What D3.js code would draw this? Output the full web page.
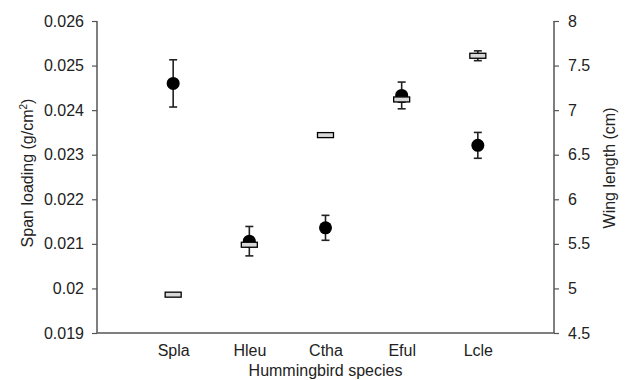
<!DOCTYPE html>
<html>
<head>
<meta charset="utf-8">
<script src="https://cdn.jsdelivr.net/npm/d3@7"></script>
<style>
  body { margin: 0; background: #fff; }
  text { font-family: "Liberation Sans", Arial, sans-serif; fill: #222; }
</style>
</head>
<body>
<div id="chart"></div>
<script>
var species = ['Spla', 'Hleu', 'Ctha', 'Eful', 'Lcle']

// span loading (left axis), mean and error
var spanLoading = [0.02460, 0.02106, 0.02136, 0.02433, 0.02321]
var spanErr     = [0.00053, 0.00033, 0.00028, 0.00030, 0.00029]

// wing length (right axis), mean and error
var wingLength = [4.93, 5.49, 6.72, 7.12, 7.61]
var wingErr    = [0.01, 0.02, 0.01, 0.03, 0.055]

var leftTicks  = [0.019, 0.02, 0.021, 0.022, 0.023, 0.024, 0.025, 0.026]
var rightTicks = [4.5, 5, 5.5, 6, 6.5, 7, 7.5, 8]

var W = 625, H = 380
var margin = {top: 21, right: 71, bottom: 47, left: 97}
var iw = W - margin.left - margin.right,
    ih = H - margin.top - margin.bottom

var svg = d3.select('#chart').append('svg')
  .attr('width', W)
  .attr('height', H)

var g = svg.append('g')
  .attr('transform', 'translate(' + margin.left + ',' + margin.top + ')')

var x = d3.scalePoint().domain(species).range([0, iw]).padding(1)
var yL = d3.scaleLinear().domain([0.019, 0.026]).range([ih, 0])
var yR = d3.scaleLinear().domain([4.5, 8]).range([ih, 0])

var axisColor = '#555'

var leftAxis = g.append('g')
  .call(d3.axisLeft(yL).tickValues(leftTicks).tickSize(5).tickPadding(8)
    .tickFormat(function(d) { return +d.toFixed(3) + '' }))
var rightAxis = g.append('g')
  .attr('transform', 'translate(' + iw + ',0)')
  .call(d3.axisRight(yR).tickValues(rightTicks).tickSize(5).tickPadding(9)
    .tickFormat(function(d) { return d + '' }))
var bottomAxis = g.append('g')
  .attr('transform', 'translate(0,' + ih + ')')
  .call(d3.axisBottom(x).tickSize(0).tickPadding(12))

;[leftAxis, rightAxis, bottomAxis].forEach(function(a) {
  a.select('.domain').attr('stroke', axisColor).attr('stroke-width', 1.5)
  a.selectAll('.tick line').attr('stroke', axisColor).attr('stroke-width', 1.2)
  a.selectAll('text').style('font-size', '16px').attr('fill', '#222')
})
bottomAxis.select('.domain').attr('d', 'M0,0H' + iw)
leftAxis.select('.domain').attr('d', 'M0,0V' + ih)
rightAxis.select('.domain').attr('d', 'M0,0V' + ih)

// axis titles
svg.append('text')
  .attr('transform', 'translate(33,173) rotate(-90)')
  .attr('text-anchor', 'middle')
  .style('font-size', '16px')
  .html('Span loading (g/cm<tspan dy="-6" font-size="10px">2</tspan><tspan dy="6">)</tspan>')

svg.append('text')
  .attr('transform', 'translate(615,168) rotate(-90)')
  .attr('text-anchor', 'middle')
  .style('font-size', '16px')
  .text('Wing length (cm)')

svg.append('text')
  .attr('x', margin.left + iw / 2)
  .attr('y', 376)
  .attr('text-anchor', 'middle')
  .style('font-size', '16px')
  .text('Hummingbird species')

var cap = 4

function errorBars(sel, scale, vals, errs) {
  var eb = sel.selectAll(null)
    .data(species)
    .enter().append('g')
  eb.append('line')
    .attr('x1', function(d) { return x(d) })
    .attr('x2', function(d) { return x(d) })
    .attr('y1', function(d, i) { return scale(vals[i] + errs[i]) })
    .attr('y2', function(d, i) { return scale(vals[i] - errs[i]) })
  eb.append('line')
    .attr('x1', function(d) { return x(d) - cap })
    .attr('x2', function(d) { return x(d) + cap })
    .attr('y1', function(d, i) { return scale(vals[i] + errs[i]) })
    .attr('y2', function(d, i) { return scale(vals[i] + errs[i]) })
  eb.append('line')
    .attr('x1', function(d) { return x(d) - cap })
    .attr('x2', function(d) { return x(d) + cap })
    .attr('y1', function(d, i) { return scale(vals[i] - errs[i]) })
    .attr('y2', function(d, i) { return scale(vals[i] - errs[i]) })
  eb.selectAll('line').attr('stroke', '#222').attr('stroke-width', 1.6)
}

var spanG = g.append('g')
errorBars(spanG, yL, spanLoading, spanErr)
spanG.selectAll('circle')
  .data(species)
  .enter().append('circle')
  .attr('cx', function(d) { return x(d) })
  .attr('cy', function(d, i) { return yL(spanLoading[i]) })
  .attr('r', 6.5)
  .attr('fill', '#000')

var wingG = g.append('g')
errorBars(wingG, yR, wingLength, wingErr)
wingG.selectAll('rect')
  .data(species)
  .enter().append('rect')
  .attr('x', function(d) { return x(d) - 8 })
  .attr('y', function(d, i) { return yR(wingLength[i]) - 2.5 })
  .attr('width', 16)
  .attr('height', 5)
  .attr('fill', '#d8d8d8')
  .attr('stroke', '#000')
  .attr('stroke-width', 1.3)
</script>
</body>
</html>
